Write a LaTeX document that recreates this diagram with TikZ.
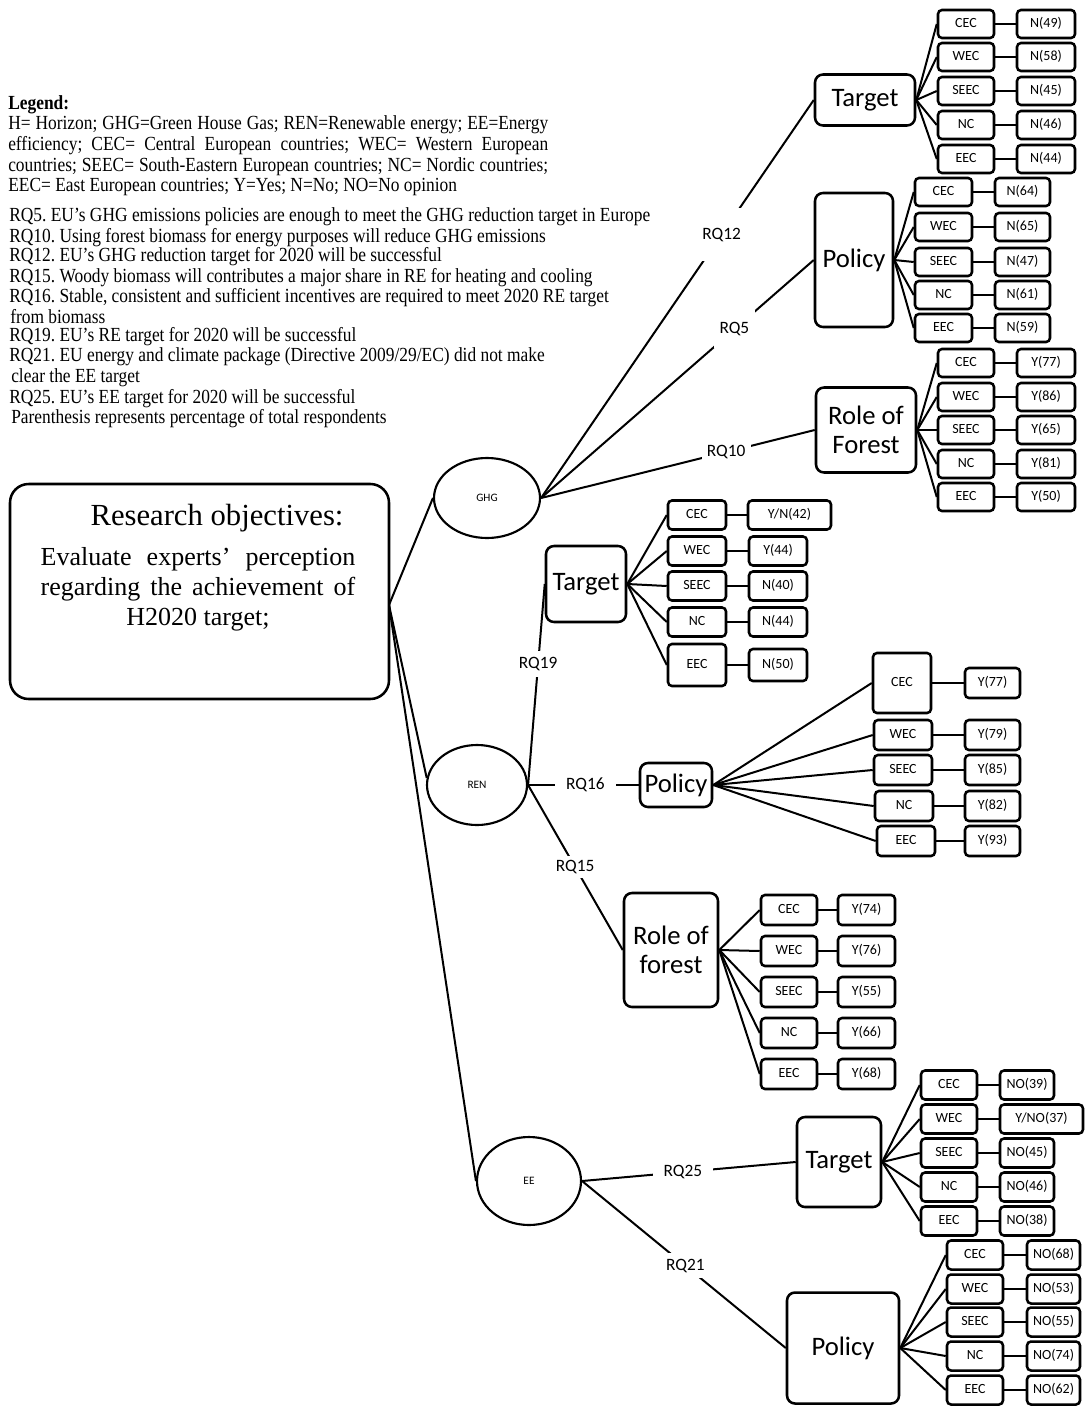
\documentclass[tikz,border=0pt]{standalone}
\usepackage{fontspec}
\setmainfont{Liberation Serif}
\newfontfamily\carl{Carlito}
\newfontfamily\legfont[FakeStretch=0.87]{Liberation Serif}
\usetikzlibrary{shapes.geometric}
\begin{document}
\frenchspacing
\begin{tikzpicture}[x=0.75pt,y=-0.75pt,
  wh/.style 2 args={minimum width=#1*0.75pt, minimum height=#2*0.75pt},
  sm/.style={draw, rounded corners=3pt, line width=1.9pt, inner sep=0pt, text height=7.5pt, text depth=2pt, font=\carl\fontsize{10.5}{12}\selectfont},
  big/.style={draw, rounded corners=6pt, line width=1.9pt, inner sep=0pt, align=center, font=\carl\fontsize{20}{22}\selectfont},
  ell/.style={draw, ellipse, line width=1.6pt, inner sep=0pt, font=\carl\fontsize{8.5}{10}\selectfont},
  ln/.style={line width=1.5pt},
  rq/.style={fill=white, inner xsep=4pt, inner ysep=4pt, font=\carl\fontsize{13}{15}\selectfont},
  leg/.style={anchor=base west, inner sep=0pt, font=\legfont\fontsize{15}{16}\selectfont}]
\useasboundingbox (0,0) rectangle (1085,1406);

% Legend
\node[leg] (lg0) at (8,109) {\textbf{Legend:}};
\node[leg] (lg1) at (8,129) {\makebox[405pt][s]{H= Horizon; GHG=Green House Gas; REN=Renewable energy; EE=Energy}};
\node[leg] (lg2) at (8,150) {\makebox[405pt][s]{efficiency; CEC= Central European countries; WEC= Western European}};
\node[leg] (lg3) at (8,171) {\makebox[405pt][s]{countries; SEEC= South-Eastern European countries; NC= Nordic countries;}};
\node[leg] (lg4) at (8,191) {EEC= East European countries; Y=Yes; N=No; NO=No opinion};
\node[leg] (q5) at (9,221) {RQ5. EU’s GHG emissions policies are enough to meet the GHG reduction target in Europe};
\node[leg] (q10) at (9,242) {RQ10. Using forest biomass for energy purposes will reduce GHG emissions};
\node[leg] (q12) at (9,261) {RQ12. EU’s GHG reduction target for 2020 will be successful};
\node[leg] (q15) at (9,282) {RQ15. Woody biomass will contributes a major share in RE for heating and cooling};
\node[leg] (q16) at (9,302) {RQ16. Stable, consistent and sufficient incentives are required to meet 2020 RE target};
\node[leg] (q16b) at (10,323) {from biomass};
\node[leg] (q19) at (9,341) {RQ19. EU’s RE target for 2020 will be successful};
\node[leg] (q21) at (9,361) {RQ21. EU energy and climate package (Directive 2009/29/EC) did not make};
\node[leg] (q21b) at (11,382) {clear the EE target};
\node[leg] (q25) at (9,403) {RQ25. EU’s EE target for 2020 will be successful};
\node[leg] (par) at (11,423) {Parenthesis represents percentage of total respondents};

% Research objectives box
\node[draw, rounded corners=14pt, line width=1.9pt, wh={379}{215}] (ro) at (199.5,591.5) {};
\node[font=\fontsize{23}{25}\selectfont, inner sep=0pt] (rot) at (217,518) {Research objectives:};
\node[font=\fontsize{19.5}{22.5}\selectfont, inner sep=0pt, align=center] (rob) at (198,589)
  {\makebox[236pt][s]{Evaluate experts’ perception}\\ \makebox[236pt][s]{regarding the achievement of}\\ H2020 target;};
\coordinate (rop) at (389,605);

% Ellipses
\node[ell, wh={106}{80}] (ghg) at (487,498) {GHG};
\node[ell, wh={100}{80}] (ren) at (477,785) {REN};
\node[ell, wh={104}{88}] (ee) at (529,1181) {EE};

\draw[ln] (rop) -- (ghg.west);
\draw[ln] (rop) -- (ren.172);
\draw[ln] (rop) -- (ee.west);

% Big boxes
\node[big, wh={100}{51}] (gt) at (865,100) {Target};
\node[big, wh={78}{134}] (gp) at (854,260) {Policy};
\node[big, wh={100}{85}] (gf) at (866,430) {Role of\\Forest};
\node[big, wh={80}{76}] (rt) at (586,584) {Target};
\node[big, wh={72}{44}] (rp) at (676,785) {Policy};
\node[big, wh={94}{114}] (rf) at (671,950) {Role of\\forest};
\node[big, wh={84}{90}] (et) at (839,1162) {Target};
\node[big, wh={112}{111}] (ep) at (843,1348) {Policy};

% Main connectors
\draw[ln] (ghg.east) -- node[rq,pos=0.662,inner ysep=15pt]{RQ12} (gt.west);
\draw[ln] (ghg.east) -- node[rq,pos=0.709,inner ysep=9pt]{RQ5} (gp.west);
\draw[ln] (ghg.east) -- node[rq,pos=0.676]{RQ10} (gf.west);
\draw[ln] (ren.east) -- node[rq,pos=0.602,inner ysep=5pt]{RQ19} (rt.west);
\draw[ln] (ren.east) -- node[rq,pos=0.518,inner xsep=8.5pt]{RQ16} (rp.west);
\draw[ln] (ren.east) -- node[rq,pos=0.497,inner ysep=3.5pt]{RQ15} (rf.west);
\draw[ln] (ee.east) -- node[rq,pos=0.472,inner xsep=8pt]{RQ25} (et.west);
\draw[ln] (ee.east) -- node[rq,pos=0.507,inner ysep=4.5pt]{RQ21} (ep.west);

% GHG - Target
\foreach \r/\y/\v [count=\i] in {CEC/24/N(49),WEC/57/N(58),SEEC/91/N(45),NC/125/N(46),EEC/159/N(44)}{
  \node[sm,wh={56}{28}] (gt\i) at (966,\y) {\r};
  \node[sm,wh={58}{28}] (gtv\i) at (1046,\y) {\v};
  \draw[ln] (gt.east) -- (gt\i.west);
  \draw[ln] (gt\i) -- (gtv\i);
}
% GHG - Policy
\foreach \r/\y/\v [count=\i] in {CEC/192/N(64),WEC/227/N(65),SEEC/262/N(47),NC/295/N(61),EEC/328/N(59)}{
  \node[sm,wh={57}{28}] (gp\i) at (943.5,\y) {\r};
  \node[sm,wh={55}{28}] (gpv\i) at (1022.5,\y) {\v};
  \draw[ln] (gp.east) -- (gp\i.west);
  \draw[ln] (gp\i) -- (gpv\i);
}
% GHG - Role of Forest
\foreach \r/\y/\v [count=\i] in {CEC/363/Y(77),WEC/397/Y(86),SEEC/430/Y(65),NC/464/Y(81),EEC/497/Y(50)}{
  \node[sm,wh={56}{28}] (gf\i) at (966,\y) {\r};
  \node[sm,wh={58}{28}] (gfv\i) at (1046,\y) {\v};
  \draw[ln] (gf.east) -- (gf\i.west);
  \draw[ln] (gf\i) -- (gfv\i);
}
% REN - Target
\foreach \r/\y/\h/\v/\vx/\vw/\vh [count=\i] in {CEC/515/29/{Y/N(42)}/789.5/83/29,WEC/551/29/Y(44)/778/58/29,SEEC/586/29/N(40)/778/58/29,NC/622/29/N(44)/778/58/29,EEC/665/42/N(50)/778/58/32}{
  \node[sm,wh={58}{\h}] (rt\i) at (697,\y) {\r};
  \node[sm,wh={\vw}{\vh}] (rtv\i) at (\vx,\y) {\v};
  \draw[ln] (rt.east) -- (rt\i.west);
  \draw[ln] (rt\i) -- (rtv\i);
}
% REN - Policy
\foreach \r/\x/\y/\h/\v [count=\i] in {CEC/902/683/60/Y(77),WEC/903/735/30/Y(79),SEEC/903/770/30/Y(85),NC/904/806/30/Y(82),EEC/906/841/30/Y(93)}{
  \node[sm,wh={58}{\h}] (rp\i) at (\x,\y) {\r};
  \node[sm,wh={55}{30}] (rpv\i) at (992.5,\y) {\v};
  \draw[ln] (rp.east) -- (rp\i.west);
  \draw[ln] (rp\i) -- (rpv\i);
}
% REN - Role of forest
\foreach \r/\y/\v [count=\i] in {CEC/910/Y(74),WEC/951/Y(76),SEEC/992/Y(55),NC/1033/Y(66),EEC/1074/Y(68)}{
  \node[sm,wh={56}{30}] (rf\i) at (789,\y) {\r};
  \node[sm,wh={57}{30}] (rfv\i) at (866.5,\y) {\v};
  \draw[ln] (rf.east) -- (rf\i.west);
  \draw[ln] (rf\i) -- (rfv\i);
}
% EE - Target
\foreach \r/\y/\v/\vx/\vw [count=\i] in {CEC/1085/NO(39)/1027/54,WEC/1119/{Y/NO(37)}/1041.5/83,SEEC/1153/NO(45)/1027/54,NC/1187/NO(46)/1027/54,EEC/1221/NO(38)/1027/54}{
  \node[sm,wh={56}{29}] (et\i) at (949,\y) {\r};
  \node[sm,wh={\vw}{29}] (etv\i) at (\vx,\y) {\v};
  \draw[ln] (et.east) -- (et\i.west);
  \draw[ln] (et\i) -- (etv\i);
}
% EE - Policy
\foreach \r/\y/\v [count=\i] in {CEC/1255/NO(68),WEC/1289/NO(53),SEEC/1322/NO(55),NC/1356/NO(74),EEC/1390/NO(62)}{
  \node[sm,wh={56}{29}] (ep\i) at (975,\y) {\r};
  \node[sm,wh={53}{29}] (epv\i) at (1053.5,\y) {\v};
  \draw[ln] (ep.east) -- (ep\i.west);
  \draw[ln] (ep\i) -- (epv\i);
}
\end{tikzpicture}
\end{document}
